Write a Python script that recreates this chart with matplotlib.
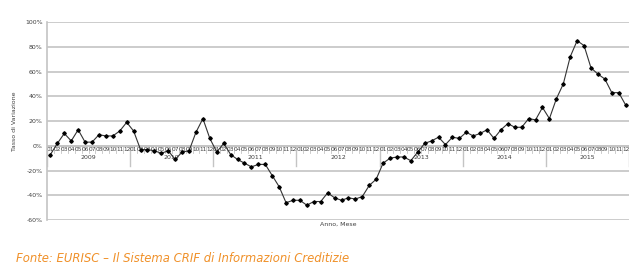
import matplotlib
matplotlib.use("Agg")
import matplotlib.pyplot as plt

years = ["2009", "2010", "2011", "2012", "2013", "2014", "2015"]
months = ["01", "02", "03", "04", "05", "06", "07", "08", "09", "10", "11", "12"]

# tasso di variazione (%) per mese, gen 2009 - dic 2015
v2009 = [-7, 2, 10, 4, 13, 3, 3, 9, 8, 8, 12, 19]
v2010 = [12, -3, -3, -4, -6, -4, -11, -5, -4, 11, 22, 6]
v2011 = [-5, 2, -7, -11, -14, -17, -15, -15, -24, -33, -46, -44]
v2012 = [-44, -48, -45, -45, -38, -42, -44, -42, -43, -41, -32, -27]
v2013 = [-14, -10, -9, -9, -12, -5, 2, 4, 7, 1, 7, 6]
v2014 = [11, 8, 10, 13, 6, 13, 18, 15, 15, 22, 21, 31]
v2015 = [22, 38, 50, 72, 85, 81, 63, 58, 54, 43, 43, 33]

values = v2009 + v2010 + v2011 + v2012 + v2013 + v2014 + v2015
x = list(range(len(values)))

GRID = "#c4c4c4"
TXT = "#404040"

fig = plt.figure(figsize=(6.4, 2.8), dpi=100)
ax = fig.add_axes([0.0734, 0.214, 0.9096, 0.707])

ax.set_xlim(-0.5, len(values) - 0.5)
ax.set_ylim(-60, 100)
ax.set_yticks(range(-60, 101, 20))
ax.set_yticklabels([f"{t}%" for t in range(-60, 101, 20)], fontsize=4.5, color=TXT)
ax.yaxis.grid(True, color=GRID, linewidth=1.2)
ax.set_axisbelow(True)
ax.tick_params(axis="y", length=0, pad=3)
ax.set_xticks([])
for s in ["top", "right", "bottom"]:
    ax.spines[s].set_visible(False)
ax.spines["left"].set_color(GRID)
ax.spines["left"].set_linewidth(1.2)

# asse categorie sulla linea dello zero
ax.axhline(0, color=GRID, linewidth=1.2, zorder=1)
for i in range(len(values) + 1):
    b = i - 0.5
    if i % 12 == 0:
        ax.plot([b, b], [0, -16], color=GRID, linewidth=1.0, zorder=1)
    else:
        ax.plot([b, b], [0, -5.5], color=GRID, linewidth=0.6, zorder=1)
for i in x:
    ax.text(i, -2.8, months[i % 12], fontsize=4.2, color=TXT,
            ha="center", va="center", zorder=2)
for k, yr in enumerate(years):
    ax.text(k * 12 + 5.5, -9.8, yr, fontsize=4.5, color=TXT,
            ha="center", va="center")

ax.plot(x, values, color="#333333", linewidth=0.8, marker="D",
        markersize=1.8, markerfacecolor="black", markeredgecolor="black", zorder=3)

ax.set_ylabel("Tasso di Variazione", fontsize=4.5, color=TXT, labelpad=6)
ax.set_xlabel("Anno, Mese", fontsize=4.5, color=TXT, labelpad=1)

fig.text(0.025, 0.078, "Fonte: EURISC \u2013 Il Sistema CRIF di Informazioni Creditizie",
         fontsize=8.4, style="italic", color="#f0912a", ha="left", va="center")

fig.savefig("out.png", dpi=100)
plt.close(fig)
